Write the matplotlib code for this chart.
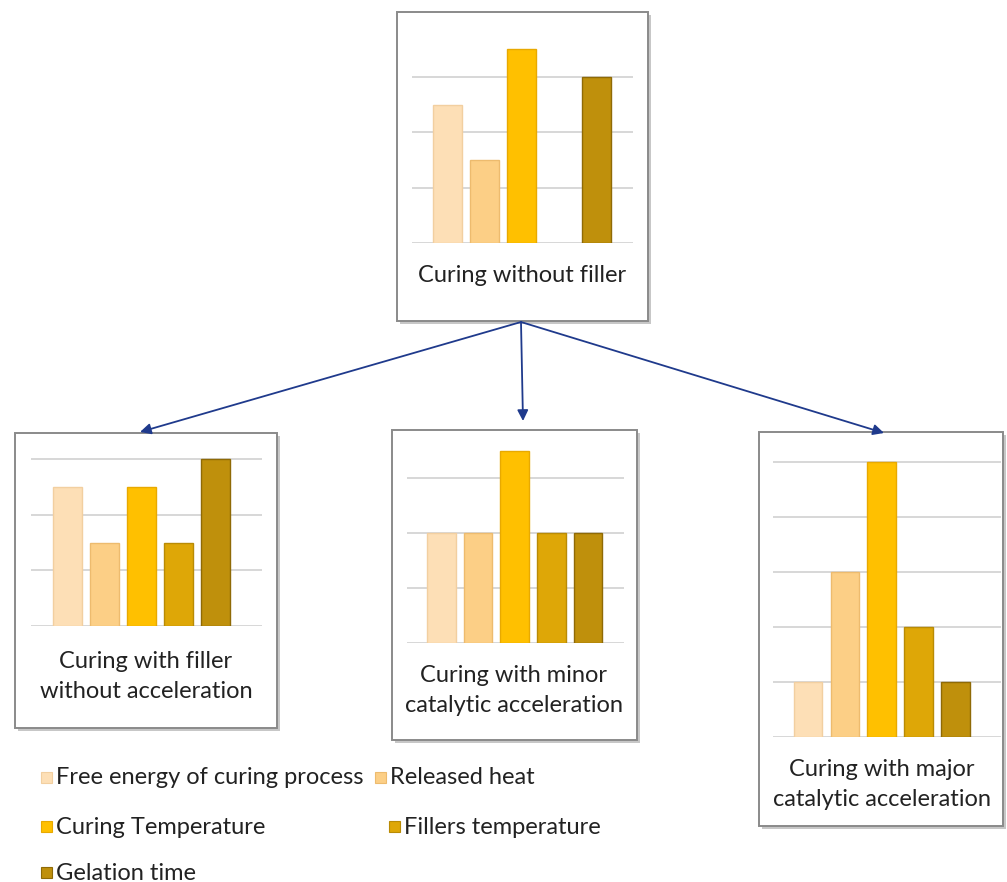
import numpy as np
import matplotlib
matplotlib.use("Agg")
import matplotlib.pyplot as plt
from matplotlib.patches import Rectangle

plt.rcParams["font.family"] = ["Lato", "DejaVu Sans"]

# series names (legend order) and bar colours
categories = ["Free energy of curing process", "Released heat",
              "Curing Temperature", "Fillers temperature", "Gelation time"]
colors = ["#FDDFB6", "#FCCF86", "#FFC000", "#DEA707", "#BF900C"]
edges = ["#F2CFA0", "#EDBB6E", "#E8A900", "#B98B05", "#8F6A06"]

# relative levels per curing scenario
no_filler = [2.5, 1.5, 3.5, 0, 3]
filler_no_acc = [2.5, 1.5, 2.5, 1.5, 3]
minor_acc = [2, 2, 3.5, 2, 2]
major_acc = [1, 3, 5, 2, 1]

titles = ["Curing without filler",
          "Curing with filler\nwithout acceleration",
          "Curing with minor\ncatalytic acceleration",
          "Curing with major\ncatalytic acceleration"]

W, H = 1007, 882
fig = plt.figure(figsize=(W / 100, H / 100), dpi=100)
fig.patch.set_facecolor("white")

bg = fig.add_axes([0, 0, 1, 1])
bg.set_xlim(0, W)
bg.set_ylim(H, 0)
bg.axis("off")


def px_rect(x0, y0, x1, y1):
    return [x0 / W, 1 - y1 / H, (x1 - x0) / W, (y1 - y0) / H]


# box, grid extent (x0, x1, baseline, unit), first bar centre, bar step,
# top gridline, y max, title centre and first line y
panels = [
    dict(values=no_filler, box=(397, 12, 648, 321), grid=(412, 633, 243, 55.3),
         c0=447.5, step=37.2, ntick=3, ymax=3.55, tx=522, ty=275),
    dict(values=filler_no_acc, box=(15, 433, 277, 728), grid=(31, 262, 626, 55.6),
         c0=67.5, step=37.0, ntick=3, ymax=3.05, tx=146, ty=662),
    dict(values=minor_acc, box=(392, 430, 637, 740), grid=(407, 624, 643, 55.0),
         c0=441.5, step=36.6, ntick=3, ymax=3.55, tx=514, ty=676),
    dict(values=major_acc, box=(759, 432, 1003, 826), grid=(773, 1001, 737, 55.0),
         c0=808.0, step=36.9, ntick=5, ymax=5.05, tx=882, ty=770),
]

for p, title in zip(panels, titles):
    x0, y0, x1, y1 = p["box"]
    bg.add_patch(Rectangle((x0 + 3, y0 + 3), x1 - x0, y1 - y0,
                           facecolor="#9a9a9a", edgecolor="none", alpha=0.55, zorder=1))
    bg.add_patch(Rectangle((x0, y0), x1 - x0, y1 - y0,
                           facecolor="white", edgecolor="#8a8a8a", lw=1.4, zorder=2))

    gx0, gx1, base, unit = p["grid"]
    top = base - p["ymax"] * unit
    ax = fig.add_axes(px_rect(gx0, top, gx1, base))
    ax.patch.set_alpha(0)
    ax.set_ylim(0, p["ymax"])
    ax.set_xlim((gx0 - p["c0"]) / p["step"], (gx1 - p["c0"]) / p["step"])
    ax.set_yticks(range(p["ntick"] + 1))
    ax.set_xticks([])
    ax.yaxis.grid(True, color="#d4d4d4", lw=1.3)
    ax.set_axisbelow(True)
    ax.tick_params(length=0, labelleft=False)
    for s in ax.spines.values():
        s.set_visible(False)

    vals = np.array(p["values"], dtype=float)
    idx = np.arange(len(vals))
    keep = vals > 0
    ax.bar(idx[keep], vals[keep], width=0.78,
           color=[c for c, k in zip(colors, keep) if k],
           edgecolor=[e for e, k in zip(edges, keep) if k],
           lw=1.0, zorder=3)

    # one or two centred title lines under the bars
    for i, line in enumerate(title.split("\n")):
        bg.text(p["tx"], p["ty"] + 29 * i, line, ha="center", va="center",
                fontsize=17, color="#222222", zorder=5)

# arrows from the no-filler box to the three scenarios
src = (521, 322)
for tgt in [(140, 432), (523, 421), (884, 433)]:
    bg.annotate("", xy=tgt, xytext=src,
                arrowprops=dict(arrowstyle="-|>", color="#1F3A8C", lw=1.3,
                                mutation_scale=16, shrinkA=0, shrinkB=0),
                zorder=4)

# legend laid out in rows of two
legend_pos = [(41, 778), (375, 778), (41, 827), (389, 827), (41, 873)]
for (lx, ly), name, c, e in zip(legend_pos, categories, colors, edges):
    bg.add_patch(Rectangle((lx, ly - 6), 11, 11, facecolor=c, edgecolor=e,
                           lw=0.8, zorder=5))
    bg.text(lx + 15, ly, name, ha="left", va="center", fontsize=17,
            color="#222222", zorder=5)

fig.savefig("out.png", dpi=100)
